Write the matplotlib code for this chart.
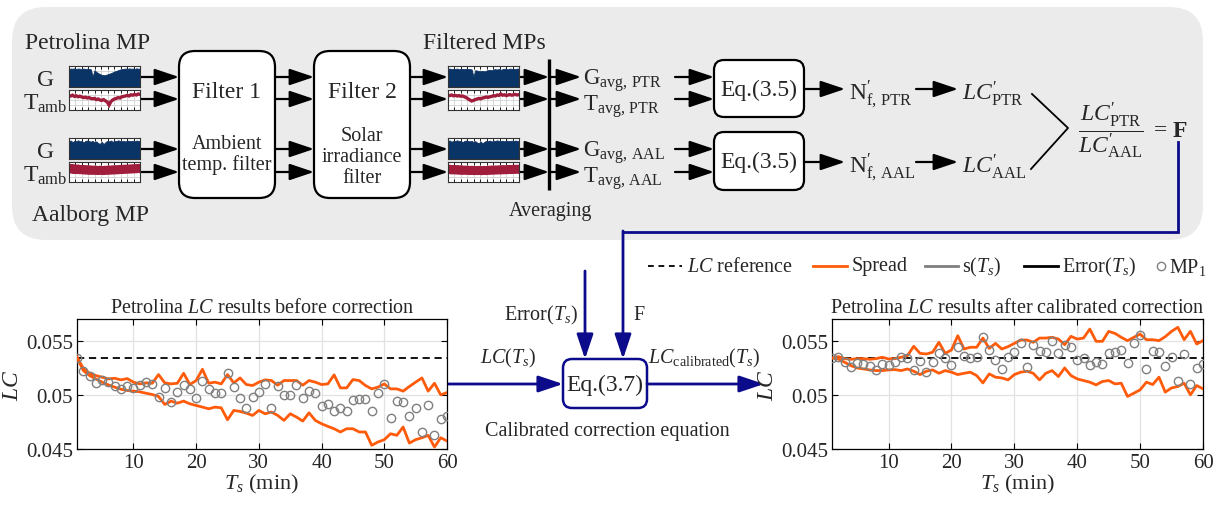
import matplotlib
matplotlib.use('Agg')
import matplotlib.pyplot as plt
from matplotlib.patches import FancyBboxPatch
import numpy as np

# ---------------- data ----------------
T_S = list(range(1, 61))
LC_REF = 0.05343
X_TICKS = [10, 20, 30, 40, 50, 60]
Y_TICKS = [0.045, 0.05, 0.055]
Y_TICK_LABELS = ['0.045', '0.05', '0.055']

BEFORE_UPPER = [0.05347, 0.05245, 0.05199, 0.05178, 0.05163, 0.05147, 0.05153, 0.05138, 0.05150, 0.05117,
                0.05101, 0.05110, 0.05107, 0.05187, 0.05110, 0.05101, 0.05107, 0.05199, 0.05095, 0.05132,
                0.05236, 0.05107, 0.05117, 0.05101, 0.05187, 0.05110, 0.05156, 0.05095, 0.05086, 0.05117,
                0.05138, 0.05132, 0.05089, 0.05132, 0.05132, 0.05132, 0.05089, 0.05132, 0.05117, 0.05095,
                0.05101, 0.05184, 0.05064, 0.05064, 0.05141, 0.05132, 0.05086, 0.05055, 0.05071, 0.05101,
                0.05055, 0.05055, 0.05034, 0.05077, 0.05117, 0.05156, 0.05034, 0.05107, 0.05000, 0.05021]
BEFORE_LOWER = [0.05347, 0.05224, 0.05178, 0.05147, 0.05117, 0.05092, 0.05071, 0.05052, 0.05040, 0.05034,
                0.05028, 0.05015, 0.05003, 0.04985, 0.04911, 0.04942, 0.04923, 0.04942, 0.04917, 0.04902,
                0.04887, 0.04871, 0.04887, 0.04880, 0.04770, 0.04856, 0.04847, 0.04831, 0.04810, 0.04856,
                0.04825, 0.04841, 0.04810, 0.04764, 0.04825, 0.04795, 0.04758, 0.04834, 0.04764, 0.04733,
                0.04709, 0.04687, 0.04657, 0.04687, 0.04687, 0.04657, 0.04657, 0.04534, 0.04565, 0.04586,
                0.04641, 0.04626, 0.04703, 0.04555, 0.04586, 0.04604, 0.04626, 0.04518, 0.04604, 0.04574]
BEFORE_MP1 = [0.05340, 0.05218, 0.05172, 0.05107, 0.05138, 0.05117, 0.05086, 0.05055, 0.05077, 0.05064,
              0.05092, 0.05117, 0.05101, 0.04979, 0.05061, 0.04933, 0.05025, 0.05092, 0.05055, 0.04972,
              0.05132, 0.05055, 0.05015, 0.05015, 0.05199, 0.05071, 0.04972, 0.04880, 0.04979, 0.05025,
              0.05101, 0.04880, 0.05077, 0.05003, 0.05003, 0.05095, 0.04972, 0.05037, 0.05018, 0.04896,
              0.04917, 0.04847, 0.04880, 0.04847, 0.04951, 0.04957, 0.04963, 0.04847, 0.05018, 0.05101,
              0.04785, 0.04945, 0.04936, 0.04807, 0.04883, 0.04656, 0.04905, 0.04632, 0.04779, 0.04804]

AFTER_UPPER = [0.05340, 0.05353, 0.05334, 0.05328, 0.05334, 0.05334, 0.05328, 0.05334, 0.05347, 0.05331,
               0.05334, 0.05347, 0.05362, 0.05448, 0.05383, 0.05377, 0.05393, 0.05485, 0.05383, 0.05414,
               0.05546, 0.05423, 0.05439, 0.05439, 0.05524, 0.05429, 0.05475, 0.05423, 0.05445, 0.05475,
               0.05506, 0.05506, 0.05485, 0.05524, 0.05524, 0.05531, 0.05515, 0.05463, 0.05540, 0.05515,
               0.05524, 0.05607, 0.05494, 0.05494, 0.05586, 0.05567, 0.05531, 0.05500, 0.05531, 0.05561,
               0.05509, 0.05509, 0.05500, 0.05537, 0.05586, 0.05623, 0.05509, 0.05586, 0.05469, 0.05500]
AFTER_LOWER = [0.05340, 0.05331, 0.05301, 0.05270, 0.05248, 0.05239, 0.05230, 0.05224, 0.05224, 0.05230,
               0.05233, 0.05224, 0.05239, 0.05218, 0.05187, 0.05218, 0.05230, 0.05199, 0.05224, 0.05209,
               0.05187, 0.05199, 0.05209, 0.05178, 0.05110, 0.05193, 0.05163, 0.05156, 0.05138, 0.05187,
               0.05209, 0.05218, 0.05199, 0.05138, 0.05199, 0.05224, 0.05169, 0.05248, 0.05178, 0.05147,
               0.05132, 0.05117, 0.05092, 0.05123, 0.05132, 0.05101, 0.05107, 0.04985, 0.05015, 0.05046,
               0.05117, 0.05095, 0.05163, 0.05025, 0.05064, 0.05077, 0.05107, 0.05000, 0.05086, 0.05055]
AFTER_MP1 = [0.05340, 0.05347, 0.05307, 0.05255, 0.05294, 0.05285, 0.05264, 0.05230, 0.05285, 0.05276,
             0.05307, 0.05347, 0.05337, 0.05233, 0.05316, 0.05209, 0.05301, 0.05383, 0.05340, 0.05279,
             0.05439, 0.05362, 0.05340, 0.05347, 0.05531, 0.05414, 0.05325, 0.05239, 0.05347, 0.05393,
             0.05478, 0.05255, 0.05460, 0.05402, 0.05393, 0.05494, 0.05386, 0.05460, 0.05439, 0.05322,
             0.05337, 0.05276, 0.05307, 0.05285, 0.05383, 0.05399, 0.05414, 0.05294, 0.05475, 0.05555,
             0.05239, 0.05408, 0.05393, 0.05270, 0.05347, 0.05126, 0.05377, 0.05101, 0.05248, 0.05285]

# sparkline thumbnails (normalised 0..1)
PTR_G_RAW = [0.86, 0.88, 0.87, 0.89, 0.86, 0.88, 0.87, 0.85, 0.88, 0.86, 0.87, 0.86, 0.84, 0.50, 0.80, 0.72,
             0.66, 0.62, 0.58, 0.56, 0.57, 0.60, 0.63, 0.66, 0.70, 0.74, 0.77, 0.80, 0.83, 0.85, 0.86, 0.88,
             0.86, 0.89, 0.87, 0.88, 0.86, 0.89, 0.87, 0.88]
PTR_T_RAW = [0.72, 0.70, 0.74, 0.68, 0.71, 0.66, 0.69, 0.65, 0.62, 0.64, 0.60, 0.62, 0.58, 0.56, 0.58, 0.52,
             0.55, 0.50, 0.48, 0.52, 0.46, 0.40, 0.25, 0.42, 0.50, 0.55, 0.58, 0.62, 0.60, 0.66, 0.68, 0.70,
             0.73, 0.70, 0.76, 0.74, 0.78, 0.75, 0.80, 0.78]
AAL_G_RAW = [0.86, 0.88, 0.80, 0.87, 0.85, 0.89, 0.84, 0.87, 0.78, 0.86, 0.88, 0.85, 0.83, 0.86, 0.80, 0.84,
             0.75, 0.72, 0.82, 0.70, 0.80, 0.86, 0.84, 0.88, 0.82, 0.87, 0.85, 0.89, 0.86, 0.84, 0.87, 0.83,
             0.88, 0.86, 0.85, 0.87, 0.84, 0.88, 0.86, 0.87]
AAL_T_RAW = [0.66, 0.68, 0.63, 0.66, 0.62, 0.65, 0.61, 0.63, 0.60, 0.62, 0.59, 0.61, 0.58, 0.60, 0.58, 0.59,
             0.57, 0.59, 0.58, 0.57, 0.59, 0.58, 0.60, 0.59, 0.61, 0.60, 0.62, 0.61, 0.63, 0.62, 0.64, 0.63,
             0.65, 0.64, 0.66, 0.65, 0.67, 0.66, 0.68, 0.67]
PTR_G_FIL = [0.86, 0.88, 0.85, 0.87, 0.86, 0.88, 0.84, 0.87, 0.86, 0.85, 0.87, 0.86, 0.85, 0.84, 0.50, 0.80,
             0.78, 0.76, 0.75, 0.77, 0.74, 0.78, 0.80, 0.82, 0.79, 0.84, 0.85, 0.83, 0.86, 0.82, 0.85, 0.87,
             0.86, 0.84, 0.88, 0.86, 0.87, 0.85, 0.88, 0.86]
PTR_T_FIL = [0.74, 0.72, 0.75, 0.71, 0.73, 0.70, 0.72, 0.69, 0.70, 0.66, 0.62, 0.56, 0.50, 0.45, 0.48, 0.52,
             0.55, 0.58, 0.56, 0.60, 0.62, 0.65, 0.63, 0.66, 0.68, 0.72, 0.70, 0.75, 0.73, 0.80, 0.74, 0.76,
             0.72, 0.75, 0.77, 0.74, 0.76, 0.78, 0.75, 0.77]
AAL_G_FIL = [0.87, 0.88, 0.82, 0.87, 0.86, 0.89, 0.85, 0.87, 0.80, 0.86, 0.88, 0.86, 0.84, 0.86, 0.81, 0.85,
             0.78, 0.76, 0.83, 0.74, 0.82, 0.86, 0.85, 0.88, 0.83, 0.87, 0.86, 0.89, 0.86, 0.85, 0.87, 0.84,
             0.88, 0.86, 0.86, 0.87, 0.85, 0.88, 0.86, 0.87]
AAL_T_FIL = [0.62, 0.64, 0.60, 0.63, 0.60, 0.62, 0.59, 0.61, 0.58, 0.60, 0.58, 0.59, 0.57, 0.59, 0.57, 0.58,
             0.57, 0.58, 0.57, 0.57, 0.58, 0.57, 0.59, 0.58, 0.60, 0.59, 0.60, 0.60, 0.61, 0.60, 0.62, 0.61,
             0.62, 0.62, 0.63, 0.62, 0.64, 0.63, 0.64, 0.63]

# ---------------- style ----------------
W, H = 1219, 506
plt.rcParams['font.family'] = ['Liberation Serif', 'DejaVu Serif']
plt.rcParams['mathtext.fontset'] = 'custom'
plt.rcParams['mathtext.rm'] = 'Liberation Serif'
plt.rcParams['mathtext.it'] = 'Liberation Serif:italic'
plt.rcParams['mathtext.bf'] = 'Liberation Serif:bold'

ORANGE = '#ff5b0a'
BLUE = '#0b0b8c'
NAVY = '#0b3466'
RED = '#a11d3c'
GRAYBG = '#ebebeb'
TXT = '#262626'

fig = plt.figure(figsize=(W / 100, H / 100), dpi=100)
ov = fig.add_axes([0, 0, 1, 1], zorder=0)
ov.set_xlim(0, W)
ov.set_ylim(H, 0)
ov.axis('off')


def fr(x0, y0, x1, y1):
    return [x0 / W, 1 - y1 / H, (x1 - x0) / W, (y1 - y0) / H]


def arrow(x0, y0, x1, y1, color='k', lw=1.6):
    ov.annotate('', xy=(x1, y1), xytext=(x0, y0), xycoords='data',
                arrowprops=dict(arrowstyle='-|>,head_length=1.25,head_width=0.42',
                                mutation_scale=12, color=color, lw=lw,
                                shrinkA=0, shrinkB=0))


def rbox(x0, y0, x1, y1, ec='k', r=14, lw=1.6, fc='white'):
    ov.add_patch(FancyBboxPatch((x0, y0), x1 - x0, y1 - y0,
                                boxstyle=f'round,pad=0,rounding_size={r}',
                                fc=fc, ec=ec, lw=lw, zorder=2))


# gray background
ov.add_patch(FancyBboxPatch((12, 8), 1191, 233, boxstyle='round,pad=0,rounding_size=34',
                            fc=GRAYBG, ec='none', zorder=0))

# ---------- sparklines ----------
def mini(box, vals, kind):
    a = fig.add_axes(fr(*box), zorder=3)
    x = np.arange(len(vals))
    a.set_xlim(0, len(vals) - 1)
    a.set_ylim(0, 1)
    a.set_facecolor('white')
    a.set_xticks(np.linspace(0, len(vals) - 1, 12))
    a.set_yticks([0.25, 0.5, 0.75])
    a.grid(True, color='#c8c8c8', lw=0.5)
    a.tick_params(direction='in', length=2, width=0.6, top=True, bottom=True,
                  left=False, right=False, labelbottom=False, labelleft=False)
    for s in a.spines.values():
        s.set_linewidth(0.8)
        s.set_color('#333333')
    if kind == 'G':
        a.fill_between(x, 0, vals, color=NAVY, lw=0.6)
    elif kind == 'T':
        a.plot(x, vals, color=RED, lw=2.4, solid_joinstyle='miter')
    else:
        a.plot(x, vals, color=RED, lw=6.5)
    a.set_axisbelow(True)


mini((69, 67, 140, 88), PTR_G_RAW, 'G')
mini((69, 91, 140, 111), PTR_T_RAW, 'T')
mini((69, 139, 140, 160), AAL_G_RAW, 'G')
mini((69, 163, 140, 183), AAL_T_RAW, 'B')
mini((448, 67, 519, 88), PTR_G_FIL, 'G')
mini((448, 91, 519, 111), PTR_T_FIL, 'T')
mini((448, 139, 519, 160), AAL_G_FIL, 'G')
mini((448, 163, 519, 183), AAL_T_FIL, 'B')

# ---------- diagram texts ----------
BIG = 17
MED = 14.5
ov.text(25, 49, 'Petrolina MP', fontsize=BIG, va='baseline', color=TXT)
ov.text(32, 221, 'Aalborg MP', fontsize=BIG, va='baseline', color=TXT)
ov.text(46, 86, 'G', fontsize=BIG, ha='center', va='baseline', color=TXT)
ov.text(46, 158, 'G', fontsize=BIG, ha='center', va='baseline', color=TXT)
ov.text(67, 110, r'$\mathrm{T}_{\mathrm{amb}}$', fontsize=BIG, ha='right', va='baseline', color=TXT)
ov.text(67, 182, r'$\mathrm{T}_{\mathrm{amb}}$', fontsize=BIG, ha='right', va='baseline', color=TXT)

rbox(179, 52, 275, 199, r=16)
rbox(314, 52, 410, 199, r=16)
ov.text(227, 98, 'Filter 1', fontsize=BIG, ha='center', va='baseline', color=TXT, zorder=4)
ov.text(227, 149, 'Ambient', fontsize=MED, ha='center', va='baseline', color=TXT, zorder=4)
ov.text(227, 170, 'temp. filter', fontsize=MED, ha='center', va='baseline', color=TXT, zorder=4)
ov.text(362, 98, 'Filter 2', fontsize=BIG, ha='center', va='baseline', color=TXT, zorder=4)
ov.text(362, 141, 'Solar', fontsize=MED, ha='center', va='baseline', color=TXT, zorder=4)
ov.text(362, 162, 'irradiance', fontsize=MED, ha='center', va='baseline', color=TXT, zorder=4)
ov.text(362, 183, 'filter', fontsize=MED, ha='center', va='baseline', color=TXT, zorder=4)

ov.text(484, 49, 'Filtered MPs', fontsize=BIG, ha='center', va='baseline', color=TXT)
ov.text(550, 216, 'Averaging', fontsize=MED, ha='center', va='baseline', color=TXT)
ov.plot([549, 549], [60, 191], color='k', lw=2.4, solid_capstyle='butt', zorder=3)

YS = [78, 100, 150, 173]
for y in YS:
    arrow(140, y, 179, y)
    arrow(275, y, 314, y)
    arrow(410, y, 448, y)
    arrow(519, y, 549, y)
    arrow(549, y, 581, y)
    arrow(675, y, 714, y)

AVG = 16.5
ov.text(583, 85, r'$\mathrm{G}_{\mathrm{avg,\,PTR}}$', fontsize=AVG, va='baseline', color=TXT)
ov.text(583, 111, r'$\mathrm{T}_{\mathrm{avg,\,PTR}}$', fontsize=AVG, va='baseline', color=TXT)
ov.text(583, 157, r'$\mathrm{G}_{\mathrm{avg,\,AAL}}$', fontsize=AVG, va='baseline', color=TXT)
ov.text(583, 183, r'$\mathrm{T}_{\mathrm{avg,\,AAL}}$', fontsize=AVG, va='baseline', color=TXT)

rbox(714, 61, 804, 118, r=10)
rbox(714, 133, 804, 191, r=10)
ov.text(759, 90, 'Eq.(3.5)', fontsize=BIG, ha='center', va='center', color=TXT, zorder=4)
ov.text(759, 162, 'Eq.(3.5)', fontsize=BIG, ha='center', va='center', color=TXT, zorder=4)

for y in (90, 163):
    arrow(804, y, 845, y)
    arrow(916, y, 958, y)
ov.text(849, 100, r'$\mathrm{N}^{\prime}_{\mathrm{f,\,PTR}}$', fontsize=BIG, va='baseline', color=TXT)
ov.text(849, 173, r'$\mathrm{N}^{\prime}_{\mathrm{f,\,AAL}}$', fontsize=BIG, va='baseline', color=TXT)
ov.text(962, 100, r'$LC^{\prime}_{\mathrm{PTR}}$', fontsize=BIG, va='baseline', color=TXT)
ov.text(962, 173, r'$LC^{\prime}_{\mathrm{AAL}}$', fontsize=BIG, va='baseline', color=TXT)
ov.plot([1032, 1068, 1031], [95, 129, 170], color='k', lw=1.3)
ov.text(1111, 131, r'$\dfrac{LC^{\prime}_{\mathrm{PTR}}}{LC^{\prime}_{\mathrm{AAL}}}$', fontsize=BIG,
        ha='center', va='center', color=TXT)
ov.text(1150, 131, r'$=\,\mathbf{F}$', fontsize=BIG, ha='left', va='center', color=TXT)

# ---------- blue correction flow ----------
ov.plot([1178, 1178, 623], [143, 233, 233], color=BLUE, lw=2.0, solid_joinstyle='miter')
arrow(623, 232, 623, 360, color=BLUE, lw=2.0)
arrow(585, 272, 585, 360, color=BLUE, lw=2.0)
arrow(447, 385, 563, 385, color=BLUE, lw=2.0)
arrow(647, 385, 764, 385, color=BLUE, lw=2.0)
rbox(563, 360, 647, 409, ec=BLUE, r=9, lw=1.8)
ov.text(605, 385, 'Eq.(3.7)', fontsize=BIG, ha='center', va='center', color=TXT, zorder=4)
ov.text(578, 320, r'Error($T_s$)', fontsize=MED, ha='right', va='baseline', color=TXT)
ov.text(633, 320, 'F', fontsize=MED, ha='left', va='baseline', color=TXT)
ov.text(508, 363, r'$LC$($T_s$)', fontsize=MED, ha='center', va='baseline', color=TXT)
ov.text(648, 363, r'$LC_{\mathrm{calibrated}}$($T_s$)', fontsize=MED, ha='left', va='baseline', color=TXT)
ov.text(607, 436, 'Calibrated correction equation', fontsize=MED, ha='center', va='baseline', color=TXT)

# ---------- legend ----------
LY = 267
ov.plot([648, 682], [LY, LY], color='k', lw=1.3, ls=(0, (3.2, 2.6)))
ov.text(687, LY, r'$LC$ reference', fontsize=MED, va='center', color=TXT)
ov.plot([813, 847], [LY, LY], color=ORANGE, lw=2)
ov.text(852, LY, 'Spread', fontsize=MED, va='center', color=TXT)
ov.plot([925, 958], [LY, LY], color='#808080', lw=2)
ov.text(962, LY, r's($T_s$)', fontsize=MED, va='center', color=TXT)
ov.plot([1024, 1058], [LY, LY], color='k', lw=2)
ov.text(1062, LY, r'Error($T_s$)', fontsize=MED, va='center', color=TXT)
ov.plot([1161], [LY], 'o', mfc='none', mec='#808080', ms=6, mew=1)
ov.text(1169, LY, r'MP$_1$', fontsize=MED, va='center', color=TXT)

# ---------- result plots ----------
def result_plot(box, upper, lower, mp, title):
    ax = fig.add_axes(fr(*box), zorder=2)
    ax.plot(T_S, upper, color=ORANGE, lw=2.0, zorder=3)
    ax.plot(T_S, lower, color=ORANGE, lw=2.0, zorder=3)
    ax.plot(T_S, mp, 'o', mfc='none', mec='#808080', ms=6, mew=1, zorder=4)
    ax.axhline(LC_REF, color='k', lw=1.3, ls=(0, (4, 2.6)), zorder=2)
    ax.set_xlim(1, 60)
    ax.set_ylim(0.045, 0.057)
    ax.set_xticks(X_TICKS)
    ax.set_yticks(Y_TICKS)
    ax.set_yticklabels(Y_TICK_LABELS)
    ax.tick_params(direction='in', top=True, right=True, labelsize=15, length=4,
                   width=0.8, pad=3, colors='k', labelcolor=TXT)
    ax.grid(True, color='#e2e2e2', lw=0.9)
    ax.set_axisbelow(True)
    for s in ax.spines.values():
        s.set_linewidth(0.9)
    ax.set_title(title, fontsize=14.5, pad=5, color=TXT)
    ax.set_xlabel(r'$T_s$ (min)', fontsize=16, labelpad=0, color=TXT)
    ax.set_ylabel(r'$LC$', fontsize=17, labelpad=2, color=TXT)
    return ax


result_plot((77, 320, 447, 450), BEFORE_UPPER, BEFORE_LOWER, BEFORE_MP1,
            r'Petrolina $LC$ results before correction')
result_plot((832, 320, 1203, 450), AFTER_UPPER, AFTER_LOWER, AFTER_MP1,
            r'Petrolina $LC$ results after calibrated correction')

fig.savefig('out.png', dpi=100)
